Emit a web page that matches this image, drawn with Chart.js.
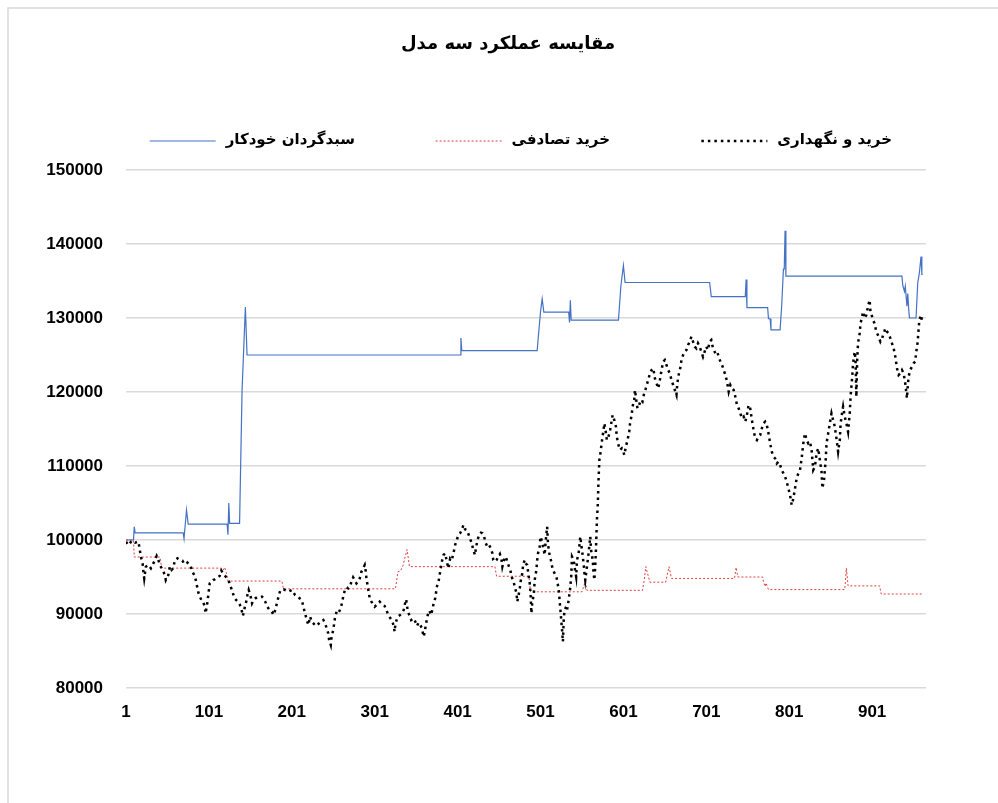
<!DOCTYPE html>
<html lang="fa">
<head>
  <meta charset="UTF-8" />
  <title>مقایسه عملکرد سه مدل</title>
  <script src="https://cdn.jsdelivr.net/npm/chart.js"></script>
  <style>
    body { margin: 0; background: #fff; }
    canvas { display: block; }
  </style>
</head>
<body>
  <canvas id="chartModels" width="998" height="803"></canvas>

  <script>
    // عنوان و نام سری‌ها
    const chartTitle = 'مقایسه عملکرد سه مدل';
    const seriesNames = ['خرید و نگهداری', 'خرید تصادفی', 'سبدگردان خودکار'];

    // محورها
    const xTicks = [1, 101, 201, 301, 401, 501, 601, 701, 801, 901];
    const yTicks = [80000, 90000, 100000, 110000, 120000, 130000, 140000, 150000];

    // سبدگردان خودکار (پله‌ای)
    const autoX = [1, 10, 11, 12, 70, 71, 74, 76, 123, 124, 125, 126, 138, 141, 145, 147,
      404, 405, 406, 497, 498, 501, 503, 505, 535, 536, 537, 538, 595, 598, 601, 603,
      705, 707, 748, 749, 750, 775, 776, 778, 779, 790, 792, 794, 795, 796, 797,
      937, 938, 940, 941, 943, 944, 945, 946, 954, 956, 958, 960, 961, 962];
    const autoY = [100000, 100000, 101800, 100950, 100950, 100200, 104050, 102150, 102150, 100700, 105000, 102250, 102250, 120200, 131500, 125000,
      125000, 127300, 125600, 125600, 127000, 130800, 132600, 130800, 130800, 129400, 132400, 129700, 129700, 134400, 137100, 134800,
      134800, 132900, 132900, 135200, 131400, 131400, 129900, 129900, 128400, 128400, 131800, 136600, 136600, 141800, 135650,
      135650, 134400, 133600, 134300, 131600, 133300, 131400, 130000, 130000, 134700, 136100, 138300, 135900, 135900];

    // خرید تصادفی (پله‌ای)
    const randX = [1, 10, 11, 42, 44, 116, 118, 120, 122, 124, 189, 191, 326, 329, 332, 335, 340, 343,
      446, 448, 487, 489, 551, 553, 555, 557, 624, 626, 628, 631, 633, 652, 656, 659,
      735, 737, 739, 769, 770, 772, 773, 776, 868, 870, 872, 910, 912, 962];
    const randY = [100000, 100000, 97700, 97700, 96200, 96200, 95900, 96300, 95600, 94450, 94450, 93400, 93400, 95700, 95800, 96500, 98700, 96400,
      96400, 95100, 95100, 93000, 93000, 93700, 94400, 93200, 93200, 94500, 96400, 95100, 94300, 94300, 96400, 94800,
      94800, 96300, 95000, 95000, 94300, 93700, 94200, 93300, 93300, 96200, 93800, 93800, 92700, 92700];

    // خرید و نگهداری
    const holdX = [1, 4, 8, 12, 16, 18, 19, 21, 22, 23, 25, 28, 31, 34, 36, 38, 40, 42, 45, 48,
      49, 52, 54, 56, 58, 60, 63, 66, 69, 71, 74, 76, 79, 81, 84, 86, 88, 90, 92, 94,
      96, 97, 99, 100, 102, 104, 106, 108, 110, 114, 116, 118, 122, 124, 126, 128, 130, 132, 134, 136,
      138, 140, 142, 144, 146, 147, 149, 151, 153, 155, 157, 159, 162, 165, 167, 169, 171, 174, 177, 179,
      181, 183, 185, 187, 191, 197, 201, 205, 209, 213, 215, 217, 219, 221, 223, 225, 227, 230, 233, 236,
      239, 241, 243, 245, 246, 248, 249, 251, 253, 255, 257, 259, 261, 263, 265, 267, 269, 271, 273, 275,
      277, 279, 281, 283, 285, 287, 289, 290, 291, 293, 295, 297, 299, 301, 303, 305, 307, 309, 311, 313,
      315, 318, 320, 322, 324, 325, 326, 328, 330, 333, 336, 338, 339, 340, 342, 345, 348, 350, 352, 354,
      356, 358, 360, 361, 363, 365, 367, 369, 371, 372, 374, 376, 378, 380, 382, 384, 386, 388, 390, 392,
      394, 396, 398, 400, 402, 404, 406, 408, 410, 412, 414, 416, 418, 420, 422, 423, 425, 427, 429, 431,
      433, 435, 437, 439, 441, 443, 444, 446, 448, 450, 452, 454, 455, 457, 459, 461, 463, 465, 466, 468,
      470, 472, 473, 475, 476, 477, 479, 480, 482, 483, 485, 486, 488, 489, 490, 491, 493, 494, 496, 497,
      498, 500, 501, 503, 504, 506, 507, 509, 510, 511, 512, 514, 515, 516, 518, 520, 521, 523, 524, 525,
      526, 527, 528, 529, 530, 532, 533, 535, 537, 538, 539, 541, 542, 544, 545, 547, 549, 550, 551, 553,
      554, 555, 557, 559, 560, 561, 562, 564, 565, 566, 567, 568, 569, 570, 571, 572, 573, 575, 577, 578,
      580, 581, 583, 585, 587, 588, 590, 592, 593, 595, 597, 599, 601, 602, 604, 606, 608, 609, 611, 612,
      614, 615, 617, 618, 620, 622, 624, 626, 628, 629, 631, 633, 635, 637, 639, 641, 643, 645, 647, 649,
      651, 653, 655, 657, 659, 661, 663, 665, 666, 668, 670, 671, 673, 675, 677, 679, 681, 683, 685, 687,
      689, 691, 693, 695, 697, 699, 701, 703, 705, 707, 709, 712, 714, 716, 718, 720, 722, 724, 726, 728,
      730, 732, 734, 736, 738, 740, 742, 744, 746, 748, 750, 752, 754, 756, 758, 760, 762, 764, 766, 768,
      770, 772, 774, 776, 778, 780, 782, 784, 786, 788, 790, 792, 794, 796, 798, 800, 802, 804, 806, 808,
      810, 812, 814, 816, 818, 820, 822, 824, 826, 828, 830, 832, 834, 836, 838, 840, 841, 843, 845, 846,
      848, 850, 852, 854, 856, 858, 860, 862, 863, 865, 866, 868, 870, 872, 874, 875, 877, 878, 880, 881,
      882, 883, 884, 886, 887, 889, 890, 892, 894, 896, 898, 899, 901, 902, 904, 906, 908, 911, 913, 915,
      917, 919, 921, 923, 925, 927, 929, 931, 933, 935, 937, 939, 941, 943, 944, 945, 947, 949, 951, 953,
      954, 956, 957, 958, 960, 961];
    const holdY = [99775, 99324, 99910, 99640, 99775, 98423, 97748, 96847, 95720, 94819, 96396, 96621, 96171, 96847, 97297, 97838, 97297, 96621, 95946, 95270,
      94594, 95270, 96396, 95946, 96171, 97297, 97522, 97297, 97207, 96847, 97072, 96847, 96486, 95720, 95135, 94144, 93017, 92342, 91891, 91666,
      90990, 90090, 91441, 92342, 94144, 94369, 94594, 94684, 94819, 95135, 95855, 95495, 94954, 94684, 94144, 93468, 92792, 92117, 91891, 91666,
      91350, 90765, 89729, 90765, 91666, 92342, 93243, 92567, 91441, 91891, 92117, 92252, 92252, 92342, 92117, 91666, 91080, 90540, 90314, 89864,
      90540, 91441, 92342, 93153, 93333, 93017, 93243, 92567, 92252, 91891, 90990, 90090, 89189, 88512, 89639, 88963, 88738, 88377, 88647, 88963,
      89189, 88828, 88062, 87387, 86486, 85810, 86937, 87838, 89414, 90315, 90090, 90540, 91216, 92342, 93243, 93603, 93468, 93693, 94369, 94954,
      94594, 94144, 94369, 94819, 95720, 96171, 96621, 95946, 94819, 93468, 92117, 91666, 91350, 90990, 91216, 91350, 91666, 91441, 91216, 91080,
      90540, 89729, 89414, 89098, 88377, 87612, 88647, 89414, 89729, 89999, 90540, 91666, 91981, 90990, 90090, 89189, 89414, 88963, 88377, 88828,
      88512, 88062, 86937, 87387, 88738, 89864, 90450, 89864, 90765, 91441, 92117, 93693, 94369, 95720, 97072, 97973, 98198, 97072, 96171, 97522,
      97297, 98198, 99324, 100000, 100676, 100901, 101352, 102027, 101442, 101352, 100811, 100225, 99549, 98649, 97973, 98874, 100000, 100676, 100991, 100901,
      100451, 99549, 99099, 99324, 98874, 98198, 97297, 97072, 97297, 97748, 98108, 97297, 96396, 97297, 97748, 97072, 96396, 95720, 95045, 94594,
      93693, 92792, 91666, 92792, 93468, 94369, 95495, 96621, 97297, 96847, 96621, 95720, 94144, 92792, 90090, 91441, 92792, 94594, 95945, 97297,
      98198, 99099, 100451, 99775, 99099, 97973, 99549, 101802, 99549, 98649, 97973, 97072, 96396, 95946, 95495, 95045, 94594, 93243, 91891, 90540,
      89189, 87838, 86261, 89189, 90540, 90991, 90540, 91891, 93693, 95045, 97748, 97297, 96396, 95045, 97297, 98198, 100451, 99549, 98649, 96847,
      95495, 94594, 96396, 98198, 99324, 100451, 98649, 97297, 95495, 94594, 96396, 99099, 102703, 104505, 108109, 110811, 111487, 113286, 114863, 115764,
      114413, 113512, 113962, 114863, 116215, 116890, 116215, 115314, 113962, 112836, 112160, 112385, 111935, 111484, 112611, 113512, 114638, 115764, 116890, 118017,
      118917, 120269, 118467, 117791, 118242, 118917, 118692, 119819, 120494, 120945, 121621, 122522, 122972, 123198, 121846, 121170, 120494, 121621, 122972, 124099,
      124324, 123648, 122972, 122522, 121621, 120945, 120269, 119594, 121170, 122522, 123423, 124324, 125000, 125450, 125675, 126351, 126801, 127477, 126801, 126126,
      125900, 126576, 126126, 125450, 124774, 125450, 126126, 125675, 126801, 127027, 125900, 125225, 125450, 124774, 124099, 123648, 122972, 122296, 121396, 120044,
      120945, 120494, 120269, 119368, 118242, 117791, 117116, 116440, 116665, 115990, 116890, 118242, 117791, 116215, 114863, 113737, 113512, 113962, 114187, 115088,
      115764, 115990, 115539, 114413, 113061, 111935, 111259, 111034, 110358, 110583, 110133, 109457, 109007, 108556, 107881, 106980, 106079, 104727, 105628, 106980,
      108331, 109007, 109457, 111034, 113061, 114413, 113512, 113061, 113286, 112160, 109457, 109907, 111709, 112385, 110808, 109232, 106980, 108106, 110808, 113061,
      114413, 115764, 117116, 116215, 115314, 113737, 111935, 113512, 115764, 117341, 118017, 116665, 115764, 114638, 117116, 119368, 122071, 123873, 125450, 124324,
      119368, 124324, 126576, 127928, 129279, 130180, 130856, 129955, 130405, 131532, 132433, 130856, 130180, 129730, 129279, 128153, 127702, 126801, 127252, 127928,
      128604, 128153, 127928, 127252, 126576, 125900, 124774, 123198, 122297, 122522, 122972, 122522, 121170, 119143, 120720, 122071, 122972, 123423, 123873, 124099,
      125225, 126801, 128378, 129730, 130405, 129730];

    const toPoints = (xs, ys) => xs.map((x, i) => ({ x: x, y: ys[i] }));

    const numFont = { family: '"Liberation Sans", Arial, sans-serif', size: 17, weight: 'bold' };
    const faFont = '"DejaVu Sans", "Liberation Sans", sans-serif';

    // عنوان، راهنما و قاب
    const decorPlugin = {
      id: 'decor',
      beforeDraw(chart) {
        const c = chart.ctx;
        c.save();
        c.fillStyle = '#ffffff';
        c.fillRect(0, 0, chart.width, chart.height);
        c.strokeStyle = '#d9d9d9';
        c.lineWidth = 1.5;
        c.beginPath();
        c.moveTo(8, chart.height);
        c.lineTo(8, 8);
        c.lineTo(chart.width, 8);
        c.stroke();
        c.restore();
      },
      afterDraw(chart) {
        const c = chart.ctx;
        c.save();
        c.fillStyle = '#000';
        c.textBaseline = 'middle';
        c.font = 'bold 18px ' + faFont;
        c.textAlign = 'center';
        c.fillText(chartTitle, 508, 44);

        // راهنما: متن سمت راست، نمونه خط سمت چپ
        const rightEdges = [892, 610, 355];
        const legendY = 140;
        c.font = 'bold 15px ' + faFont;
        chart.data.datasets.forEach((ds, i) => {
          c.textAlign = 'right';
          c.fillStyle = '#000';
          c.fillText(ds.label, rightEdges[i], legendY);
          const w = c.measureText(ds.label).width;
          const x2 = rightEdges[i] - w - 10;
          c.strokeStyle = ds.borderColor;
          c.lineWidth = ds.borderWidth;
          c.setLineDash(ds.borderDash || []);
          c.beginPath();
          c.moveTo(x2 - 66, legendY + 1);
          c.lineTo(x2, legendY + 1);
          c.stroke();
        });
        c.restore();
      }
    };

    const ctx = document.getElementById('chartModels').getContext('2d');
    const chart = new Chart(ctx, {
      type: 'line',
      data: {
        datasets: [
          {
            label: seriesNames[0],
            data: toPoints(holdX, holdY),
            borderColor: '#000000',
            borderWidth: 2.5,
            borderDash: [2.5, 4],
            pointRadius: 0,
            tension: 0
          },
          {
            label: seriesNames[1],
            data: toPoints(randX, randY),
            borderColor: '#e0403c',
            borderWidth: 1,
            borderDash: [2, 2],
            pointRadius: 0,
            tension: 0
          },
          {
            label: seriesNames[2],
            data: toPoints(autoX, autoY),
            borderColor: '#4472c4',
            borderWidth: 1.2,
            pointRadius: 0,
            tension: 0
          }
        ]
      },
      options: {
        responsive: false,
        animation: false,
        layout: { padding: { top: 170, right: 72, bottom: 85, left: 0 } },
        plugins: {
          legend: { display: false },
          title: { display: false },
          tooltip: { enabled: false }
        },
        scales: {
          x: {
            type: 'linear',
            min: 1,
            max: 966,
            afterBuildTicks: (scale) => { scale.ticks = xTicks.map(v => ({ value: v })); },
            afterFit: (scale) => { scale.height = 30; },
            grid: { display: false, drawTicks: false },
            border: { display: false },
            ticks: { color: '#000', font: numFont, padding: 14, maxRotation: 0, autoSkip: false }
          },
          y: {
            min: yTicks[0],
            max: yTicks[yTicks.length - 1],
            afterBuildTicks: (scale) => { scale.ticks = yTicks.map(v => ({ value: v })); },
            afterFit: (scale) => { scale.width = 126; },
            grid: { color: '#d9d9d9', lineWidth: 1.5, drawTicks: false },
            border: { display: false },
            ticks: { color: '#000', font: numFont, padding: 23, callback: (v) => String(v) }
          }
        }
      },
      plugins: [decorPlugin]
    });
  </script>
</body>
</html>
